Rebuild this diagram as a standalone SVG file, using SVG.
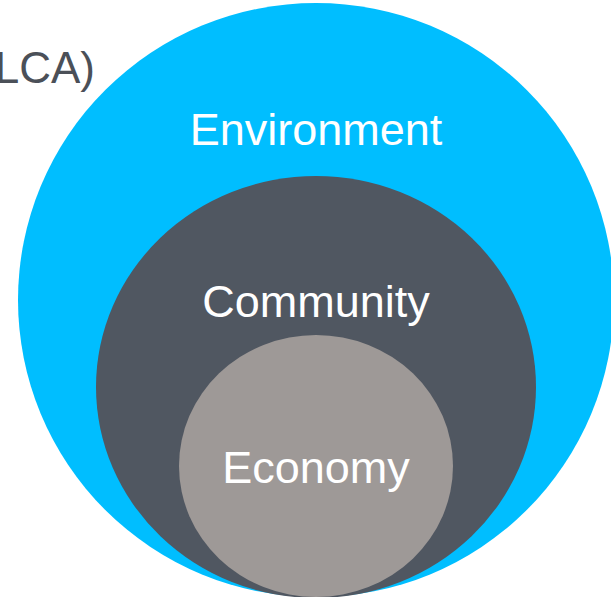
<svg xmlns="http://www.w3.org/2000/svg" width="611" height="597" viewBox="0 0 611 597">
<style>
.lbl{font-family:"Liberation Sans",Arial,sans-serif;font-size:45px;fill:#ffffff;text-anchor:middle}
</style>
<rect width="611" height="597" fill="#ffffff"/>
<text x="95" y="83" style="font-family:'Liberation Sans',Arial,sans-serif;font-size:44px;fill:#4b5058;text-anchor:end">LCA)</text>
<g id="environment">
<ellipse cx="316" cy="300" rx="298" ry="297" fill="#00BEFF"/>
<text class="lbl" x="316" y="145">Environment</text>
</g>
<g id="community">
<ellipse cx="316" cy="387" rx="220" ry="211" fill="#505761"/>
<text class="lbl" x="316" y="317">Community</text>
</g>
<g id="economy">
<ellipse cx="316" cy="466" rx="137" ry="131" fill="#9E9997"/>
<text class="lbl" x="316" y="483">Economy</text>
</g>
<g id="connectors"/>
</svg>
